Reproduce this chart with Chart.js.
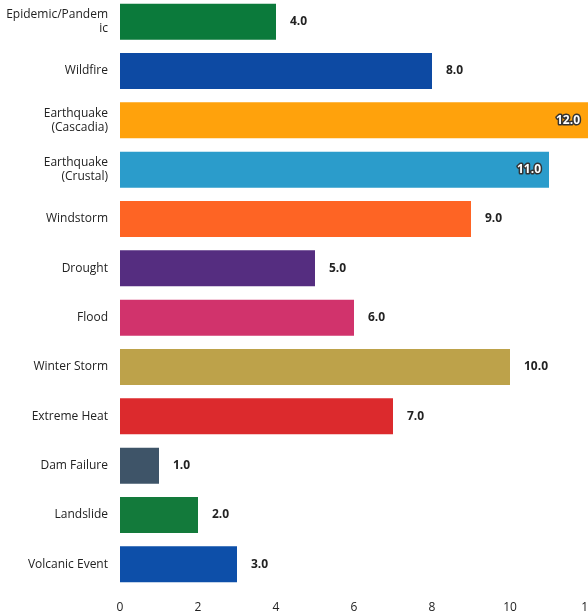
<!DOCTYPE html>
<html>
<head>
<meta charset="utf-8">
<script src="https://cdn.jsdelivr.net/npm/chart.js@4"></script>
<style>
  html, body { margin: 0; padding: 0; background: #fff; overflow: hidden; }
  #wrap { position: relative; width: 588px; height: 616px; overflow: hidden; }
  #chart { position: absolute; left: 0; top: -3px; }
</style>
</head>
<body>
<div id="wrap"><canvas id="chart" width="588" height="619"></canvas></div>
<script>
// hazard categories, top to bottom
const hazards = [
  ["Epidemic/Pandem", "ic"],
  "Wildfire",
  ["Earthquake", "(Cascadia)"],
  ["Earthquake", "(Crustal)"],
  "Windstorm",
  "Drought",
  "Flood",
  "Winter Storm",
  "Extreme Heat",
  "Dam Failure",
  "Landslide",
  "Volcanic Event"
];
const scores = [4, 8, 12, 11, 9, 5, 6, 10, 7, 1, 2, 3];
const barColors = ["#0b7a3b", "#0d4aa3", "#ffa20c", "#2b9ccb", "#fe6424", "#552d80",
                   "#d1336c", "#bda24a", "#dc2a2d", "#3e5468", "#137a3b", "#0d4fa9"];
const xTicks = [0, 2, 4, 6, 8, 10, 12];

// draws the value next to (or inside) each bar
const valueLabels = {
  id: "valueLabels",
  afterDatasetsDraw(chart) {
    const ctx = chart.ctx;
    const meta = chart.getDatasetMeta(0);
    ctx.save();
    ctx.font = "bold 12px 'Open Sans', sans-serif";
    ctx.textBaseline = "middle";
    meta.data.forEach((bar, i) => {
      const txt = scores[i].toFixed(1);
      if (scores[i] >= 11) {
        // no room on the right, put it inside the bar
        ctx.textAlign = "right";
        ctx.lineWidth = 3;
        ctx.strokeStyle = "#333";
        ctx.lineJoin = "round";
        ctx.strokeText(txt, bar.x - 8, bar.y);
        ctx.fillStyle = "#fff";
        ctx.fillText(txt, bar.x - 8, bar.y);
      } else {
        ctx.textAlign = "left";
        ctx.fillStyle = "#222";
        ctx.fillText(txt, bar.x + 14, bar.y);
      }
    });
    ctx.restore();
  }
};

new Chart(document.getElementById("chart"), {
  type: "bar",
  data: {
    labels: hazards,
    datasets: [{
      data: scores,
      backgroundColor: barColors,
      barPercentage: 0.73,
      categoryPercentage: 1
    }]
  },
  options: {
    indexAxis: "y",
    responsive: false,
    animation: false,
    layout: { padding: 0 },
    plugins: { legend: { display: false }, tooltip: { enabled: false } },
    scales: {
      x: {
        min: 0,
        max: 12,
        afterBuildTicks: (axis) => { axis.ticks = xTicks.map(v => ({ value: v })); },
        afterFit: (axis) => {
          axis.height = 27;
          axis.paddingLeft = 0;
          axis.paddingRight = 0;
        },
        grid: { display: false, drawTicks: false },
        border: { display: false },
        ticks: {
          padding: 11,
          color: "#222",
          font: { family: "'Open Sans', sans-serif", size: 12 }
        }
      },
      y: {
        afterFit: (axis) => {
          axis.width = 120;
          axis.paddingTop = 0;
          axis.paddingBottom = 0;
        },
        grid: { display: false, drawTicks: false },
        border: { display: false },
        ticks: {
          padding: 12,
          color: "#222",
          font: { family: "'Open Sans', sans-serif", size: 12 }
        }
      }
    }
  },
  plugins: [valueLabels]
});
</script>
</body>
</html>
